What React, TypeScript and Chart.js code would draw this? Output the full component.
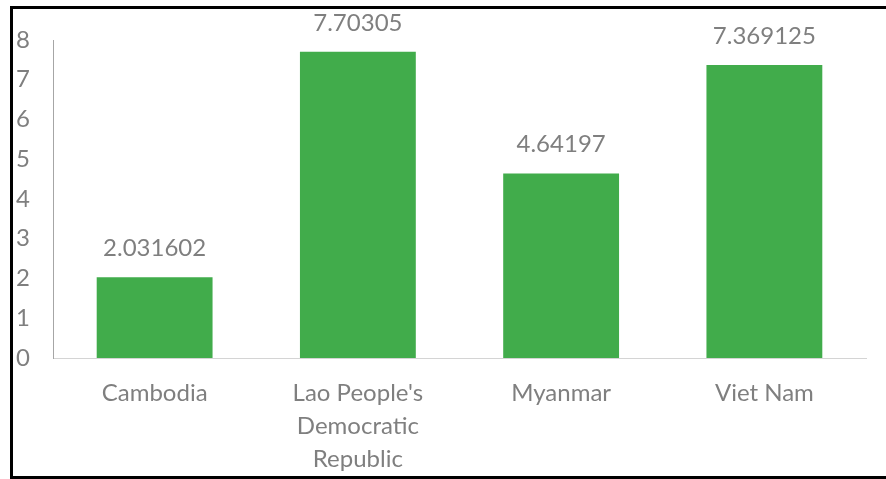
import React, { useEffect, useRef } from "react";
import { Chart, registerables } from "chart.js";

Chart.register(...registerables);

const categories: (string | string[])[] = [
  "Cambodia",
  ["Lao People's", "Democratic", "Republic"],
  "Myanmar",
  "Viet Nam",
];
const values = [2.031602, 7.70305, 4.64197, 7.369125];
const valueLabels = ["2.031602", "7.70305", "4.64197", "7.369125"];
const yTicks = [0, 1, 2, 3, 4, 5, 6, 7, 8];

const FONT = "Lato, 'Open Sans', sans-serif";
const GRAY = "#7f7f7f";

const dataLabelPlugin = {
  id: "dataLabels",
  afterDatasetsDraw(chart: any) {
    const ctx = chart.ctx;
    const meta = chart.getDatasetMeta(0);
    ctx.save();
    ctx.fillStyle = GRAY;
    ctx.font = `24px ${FONT}`;
    ctx.textAlign = "center";
    ctx.textBaseline = "middle";
    meta.data.forEach((bar: any, i: number) => {
      ctx.fillText(valueLabels[i], bar.x, bar.y - 29);
    });
    ctx.restore();
  },
};

export default function App() {
  const ref = useRef<HTMLCanvasElement>(null);
  useEffect(() => {
    if (!ref.current) return;
    const chart = new Chart(ref.current, {
      type: "bar",
      data: {
        labels: categories as any,
        datasets: [
          {
            data: values,
            backgroundColor: "#41ac4b",
            barPercentage: 0.57,
            categoryPercentage: 1,
          },
        ],
      },
      options: {
        animation: false,
        responsive: false,
        maintainAspectRatio: false,
        layout: { padding: { left: 0, right: 20, top: 40, bottom: 0 } },
        plugins: { legend: { display: false }, tooltip: { enabled: false } },
        scales: {
          x: {
            grid: { display: false, drawTicks: false },
            border: { display: true, color: "#d4d4d4", width: 1 },
            ticks: {
              color: GRAY,
              font: { family: FONT, size: 24, lineHeight: "33px" } as any,
              padding: 19,
              maxRotation: 0,
              autoSkip: false,
            },
            afterFit(scale: any) {
              scale.height = 479 - 358;
            },
          },
          y: {
            min: 0,
            max: 8,
            afterBuildTicks(scale: any) {
              scale.ticks = yTicks.map((v) => ({ value: v }));
            },
            grid: { display: false, drawTicks: false },
            border: { display: true, color: "#a6a6a6", width: 1 },
            ticks: {
              color: GRAY,
              font: { family: FONT, size: 24 },
              padding: 23,
            },
            afterFit(scale: any) {
              scale.width = 53;
            },
          },
        },
      },
      plugins: [dataLabelPlugin],
    });
    return () => chart.destroy();
  }, []);
  return (
    <div style={{ position: "fixed", left: 0, top: 0, width: 886, height: 479, background: "#fff" }}>
      <canvas
        ref={ref}
        width={886}
        height={479}
        style={{ position: "absolute", left: 0, top: 0, width: 886, height: 479 }}
      />
      <div
        style={{
          position: "absolute",
          left: 10,
          top: 6,
          width: 886,
          height: 473,
          boxSizing: "border-box",
          borderLeft: "3px solid #000",
          borderTop: "3px solid #000",
          borderBottom: "3px solid #000",
          pointerEvents: "none",
        }}
      />
    </div>
  );
}
